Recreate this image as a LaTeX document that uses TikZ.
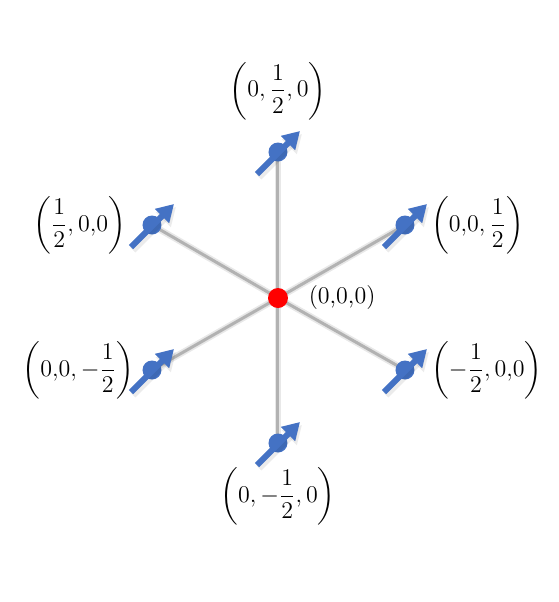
\documentclass[tikz,border=0pt]{standalone}
\usepackage{amsmath}
\usetikzlibrary{positioning,arrows.meta,backgrounds}
\definecolor{spinblue}{RGB}{68,114,196}
\tikzset{
  bond/.style={line width=3.2pt, draw=gray!18, line cap=round},
  bondcore/.style={line width=1.5pt, draw=gray!60},
  spinball/.style={circle, fill=spinblue, minimum size=9.5pt, inner sep=0pt},
  spinarrow/.style={line width=3pt, draw=spinblue, -{Triangle[width=9.5pt,length=8.5pt]}},
  spinshadow/.style={line width=3.4pt, draw=black, opacity=0.08, -{Triangle[width=10pt,length=9pt]}},
  originball/.style={circle, fill=red, minimum size=10pt, inner sep=0pt},
  coordlabel/.style={inner sep=0pt, font=\fontsize{13pt}{15pt}\selectfont}
}
\begin{document}
\begin{tikzpicture}[x=0.5pt, y=-0.5pt]
  \useasboundingbox (0,0) rectangle (559,602);
  \node (o) [originball] at (278,298) {};
  \node (top) [spinball] at (278,152) {};
  \node (bottom) [spinball] at (278,443) {};
  \node (ul) [spinball] at (152,225) {};
  \node (ur) [spinball] at (405,225) {};
  \node (ll) [spinball] at (152,370) {};
  \node (lr) [spinball] at (405,370) {};

  \begin{scope}[on background layer]
    \foreach \s in {top,bottom,ul,ur,ll,lr} {
      \draw[bond] (o.center) -- (\s.center);
      \draw[bondcore] (o.center) -- (\s.center);
    }
  \end{scope}

  \foreach \s in {top,bottom,ul,ur,ll,lr} {
    \draw[spinshadow] ([shift={(-19,25)}]\s.center) -- ([shift={(24,-18)}]\s.center);
    \draw[spinarrow] ([shift={(-21,22)}]\s.center) -- ([shift={(22,-21)}]\s.center);
  }

  \node (otext) [coordlabel, font=\fontsize{12pt}{14pt}\selectfont, right=10pt of o] {(0,0,0)};
  \node (ttop) [coordlabel, above=11pt of top] {$\left(0,\dfrac{1}{2},0\right)$};
  \node (tbottom) [coordlabel, below=7pt of bottom] {$\left(0,-\dfrac{1}{2},0\right)$};
  \node (tul) [coordlabel, left=8pt of ul] {$\left(\dfrac{1}{2},0{,}0\right)$};
  \node (tur) [coordlabel, right=8pt of ur] {$\left(0{,}0,\dfrac{1}{2}\right)$};
  \node (tll) [coordlabel, left=4pt of ll] {$\left(0{,}0,-\dfrac{1}{2}\right)$};
  \node (tlr) [coordlabel, right=8pt of lr] {$\left(-\dfrac{1}{2},0{,}0\right)$};
\end{tikzpicture}
\end{document}
